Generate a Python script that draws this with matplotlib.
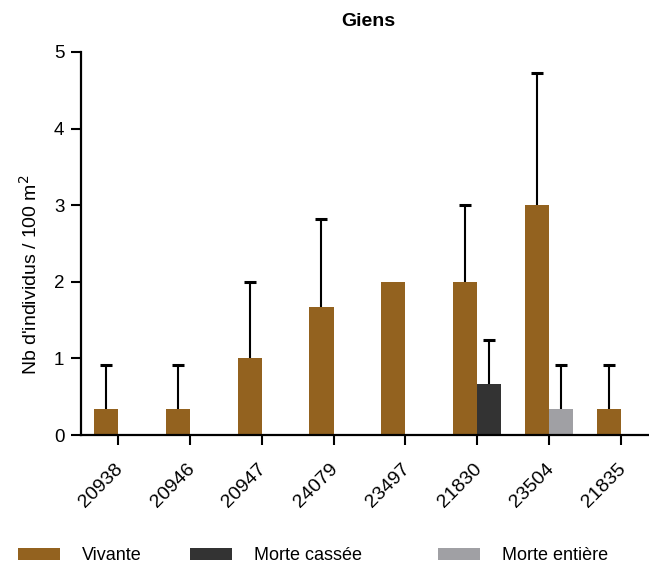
import matplotlib
matplotlib.use("Agg")
import matplotlib.pyplot as plt
from matplotlib.patches import Rectangle
import matplotlib.transforms as mtransforms
import numpy as np

plt.rcParams["font.family"] = ["Liberation Sans", "DejaVu Sans"]

categories = ["20938", "20946", "20947", "24079", "23497", "21830", "23504", "21835"]
vivante = [0.333, 0.333, 1.0, 1.667, 2.0, 2.0, 3.0, 0.333]
vivante_sd = [0.577, 0.577, 1.0, 1.155, 0.0, 1.0, 1.732, 0.577]
morte_cassee = [0, 0, 0, 0, 0, 0.667, 0, 0]
morte_cassee_sd = [0, 0, 0, 0, 0, 0.577, 0, 0]
morte_entiere = [0, 0, 0, 0, 0, 0, 0.333, 0]
morte_entiere_sd = [0, 0, 0, 0, 0, 0, 0.577, 0]
series_names = ["Vivante", "Morte cassée", "Morte entière"]
colors = ["#93621F", "#333333", "#A0A0A4"]

W, H = 649, 567
fig = plt.figure(figsize=(W / 100, H / 100), dpi=100)
left_px, right_px, bottom_px, top_px = 81, 664, 435, 52
ax = fig.add_axes([left_px / W, 1 - bottom_px / H, (right_px - left_px) / W, (bottom_px - top_px) / H])

x = np.arange(len(categories))
bw = 0.335

def draw(vals, sds, offset, color, label):
    bars = ax.bar(x + offset, vals, width=bw, align="edge", color=color, label=label, zorder=2)
    idx = [i for i in range(len(vals)) if sds[i] > 0]
    xs = x[idx] + offset + bw / 2
    ys = np.array(vals)[idx]
    e = np.array(sds)[idx]
    _, caps, _ = ax.errorbar(xs, ys, yerr=[np.zeros_like(e), e], fmt="none", ecolor="black",
                             elinewidth=1.5, capsize=4, capthick=2.2, zorder=3)
    caps[0].set_visible(False)
    return bars

b1 = draw(vivante, vivante_sd, -bw, colors[0], series_names[0])
b2 = draw(morte_cassee, morte_cassee_sd, 0, colors[1], series_names[1])
b3 = draw(morte_entiere, morte_entiere_sd, 0, colors[2], series_names[2])

ax.set_xlim(-0.515, 7.6)
ax.set_ylim(0, 5)
ax.set_yticks([0, 1, 2, 3, 4, 5])
ax.set_xticks(x)
ax.set_xticklabels(categories, rotation=45, ha="right", va="top", rotation_mode="anchor", fontsize=14)
ax.tick_params(axis="y", labelsize=13.5, direction="out", length=7, width=1.5, pad=5)
ax.tick_params(axis="x", direction="out", length=7, width=1.5, pad=11)
offset = mtransforms.ScaledTranslation(-4 / 100, 0, fig.dpi_scale_trans)
for lbl in ax.get_xticklabels():
    lbl.set_transform(lbl.get_transform() + offset)
for s in ["top", "right"]:
    ax.spines[s].set_visible(False)
for s in ["left", "bottom"]:
    ax.spines[s].set_linewidth(1.6)
ax.spines["bottom"].set_zorder(4)

fig.text(368 / W, 1 - 22 / H, "Giens", ha="center", va="center", fontsize=14, fontweight="bold")
fig.text(30 / W, 1 - 275 / H, "Nb d'individus / 100 m$^2$", rotation=90, ha="center", va="center", fontsize=14)

# legend keys
legend_x = [18, 190, 438]
for name, col, lx in zip(series_names, colors, legend_x):
    fig.patches.append(Rectangle((lx / W, 1 - 560 / H), 42 / W, 12 / H, transform=fig.transFigure,
                                 facecolor=col, edgecolor="none"))
    fig.text((lx + 64) / W, 1 - 556 / H, name, ha="left", va="center", fontsize=13)

fig.savefig("out.png", dpi=100)
